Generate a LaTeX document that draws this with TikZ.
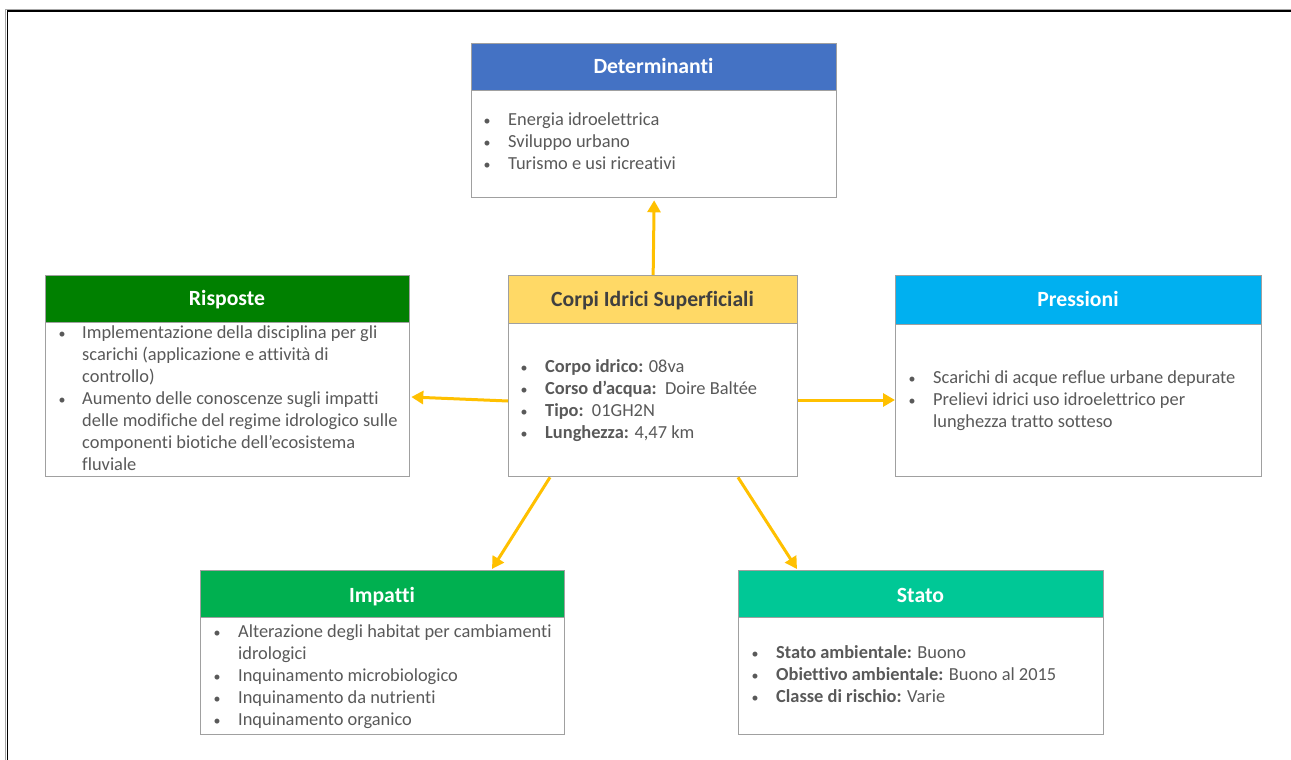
\documentclass[tikz,border=0pt]{standalone}
\usepackage{fontspec}
\setmainfont[Ligatures={NoCommon,NoContextual}]{Carlito}
\usetikzlibrary{arrows.meta,calc}
\definecolor{txtgray}{HTML}{595959}
\definecolor{boxgray}{HTML}{A0A0A0}
\definecolor{arrowyellow}{HTML}{FFC000}
\definecolor{cdet}{HTML}{4472C4}
\definecolor{crisp}{HTML}{008000}
\definecolor{ccorpi}{HTML}{FFD966}
\definecolor{cpress}{HTML}{00B0F0}
\definecolor{cimp}{HTML}{00B050}
\definecolor{cstato}{HTML}{00C896}
\definecolor{darktitle}{HTML}{404040}
\newcommand\bul{\llap{\makebox[42pt]{\fontsize{14}{14}\selectfont •}}}
\newcommand\rbul{\makebox[0pt][r]{\makebox[40pt]{\fontsize{14}{14}\selectfont •}}}
\begin{document}
\begin{tikzpicture}[x=1pt,y=-1pt,
  boxbody/.style={draw=boxgray, line width=1.3pt, fill=white, anchor=north west, inner sep=0},
  boxhead/.style={draw=boxgray, line width=1.3pt, anchor=north west, inner sep=0},
  txt/.style={anchor=base west, inner sep=0, font=\fontsize{18.4}{22}\selectfont, text=txtgray},
  ttl/.style={anchor=base, inner sep=0, font=\fontsize{21.7}{26}\selectfont\bfseries, text=white},
  arr/.style={draw=arrowyellow, line width=3pt, -{Triangle[length=12pt,width=13pt]}}]
\useasboundingbox (0,0) rectangle (1291,760);
% outer frame
\draw[gray!70, line width=1pt] (5,9.5) -- (1291,9.5);
\draw[black, line width=2pt] (7,11.5) -- (1291,11.5);
\draw[gray!70, line width=1pt] (5.5,9) -- (5.5,760);
\draw[black, line width=1.5pt] (7.5,11) -- (7.5,760);

% Determinanti
\node[boxbody, minimum width=365pt, minimum height=154pt] (det) at (471,43) {};
\node[boxhead, fill=cdet, minimum width=365pt, minimum height=47pt] (deth) at (471,43) {};
\node[ttl] (dett) at (653.5,74) {Determinanti};
\node[txt] (d1) at (508,125) {\bul Energia idroelettrica};
\node[txt] (d2) at (508,147) {\bul Sviluppo urbano};
\node[txt] (d3) at (508,169) {\bul Turismo e usi ricreativi};

% Risposte
\node[boxbody, minimum width=364pt, minimum height=201pt] (ris) at (45,275) {};
\node[boxhead, fill=crisp, minimum width=364pt, minimum height=47pt] (rish) at (45,275) {};
\node[ttl] (rist) at (227,305) {Risposte};
\node[txt] (r1) at (82,338) {\rbul Implementazione della disciplina per gli};
\node[txt] (r2) at (82,360) {scarichi (applicazione e attività di};
\node[txt] (r3) at (82,382) {controllo)};
\node[txt] (r4) at (82,404) {\rbul Aumento delle conoscenze sugli impatti};
\node[txt] (r5) at (82,426) {delle modifiche del regime idrologico sulle};
\node[txt] (r6) at (82,448) {componenti biotiche dell\char"0027 ecosistema};
\node[txt] (r7) at (82,470) {fluviale};

% Corpi Idrici Superficiali
\node[boxbody, minimum width=289pt, minimum height=201pt] (cor) at (508,275) {};
\node[boxhead, fill=ccorpi, minimum width=289pt, minimum height=48pt] (corh) at (508,275) {};
\node[ttl, text=darktitle] (cort) at (652.5,306) {Corpi Idrici Superficiali};
\node[txt] (c1) at (545,372) {\bul\textbf{Corpo idrico:} 08va};
\node[txt] (c2) at (545,394) {\bul\textbf{Corso d’acqua:}\ \ Doire Baltée};
\node[txt] (c3) at (545,416) {\bul\textbf{Tipo:}\ \ 01GH2N};
\node[txt] (c4) at (545,438) {\bul\textbf{Lunghezza:} 4,47 km};

% Pressioni
\node[boxbody, minimum width=366pt, minimum height=201pt] (pre) at (895,275) {};
\node[boxhead, fill=cpress, minimum width=366pt, minimum height=49pt] (preh) at (895,275) {};
\node[ttl] (pret) at (1078,306) {Pressioni};
\node[txt] (p1) at (933,383) {\bul Scarichi di acque reflue urbane depurate};
\node[txt] (p2) at (933,405) {\bul Prelievi idrici uso idroelettrico per};
\node[txt] (p3) at (933,427) {lunghezza tratto sotteso};

% Impatti
\node[boxbody, minimum width=364pt, minimum height=164pt] (imp) at (200,570) {};
\node[boxhead, fill=cimp, minimum width=364pt, minimum height=47pt] (imph) at (200,570) {};
\node[ttl] (impt) at (382,602) {Impatti};
\node[txt] (i1) at (238,637) {\bul Alterazione degli habitat per cambiamenti};
\node[txt] (i2) at (238,659) {idrologici};
\node[txt] (i3) at (238,681) {\bul Inquinamento microbiologico};
\node[txt] (i4) at (238,703) {\bul Inquinamento da nutrienti};
\node[txt] (i5) at (238,725) {\bul Inquinamento organico};

% Stato
\node[boxbody, minimum width=365pt, minimum height=164pt] (sta) at (738,570) {};
\node[boxhead, fill=cstato, minimum width=365pt, minimum height=47pt] (stah) at (738,570) {};
\node[ttl] (stat) at (920.5,602) {Stato};
\node[txt] (s1) at (776,658) {\bul\textbf{Stato ambientale:} Buono};
\node[txt] (s2) at (776,680) {\bul\textbf{Obiettivo ambientale:} Buono al 2015};
\node[txt] (s3) at (776,702) {\bul\textbf{Classe di rischio:} Varie};

% arrows
\draw[arr] (cor.north) -- ($(det.south)+(0,2)$);
\draw[arr] ($(cor.north west)+(0,126)$) -- ($(ris.north east)+(1,122)$);
\draw[arr] ($(cor.north east)+(0,125)$) -- ($(pre.north west)+(0,125)$);
\draw[arr] ($(cor.south west)+(42,0)$) -- ($(imp.north west)+(292,-1)$);
\draw[arr] ($(cor.south west)+(230,0)$) -- ($(sta.north west)+(59,-1)$);
\end{tikzpicture}
\end{document}
